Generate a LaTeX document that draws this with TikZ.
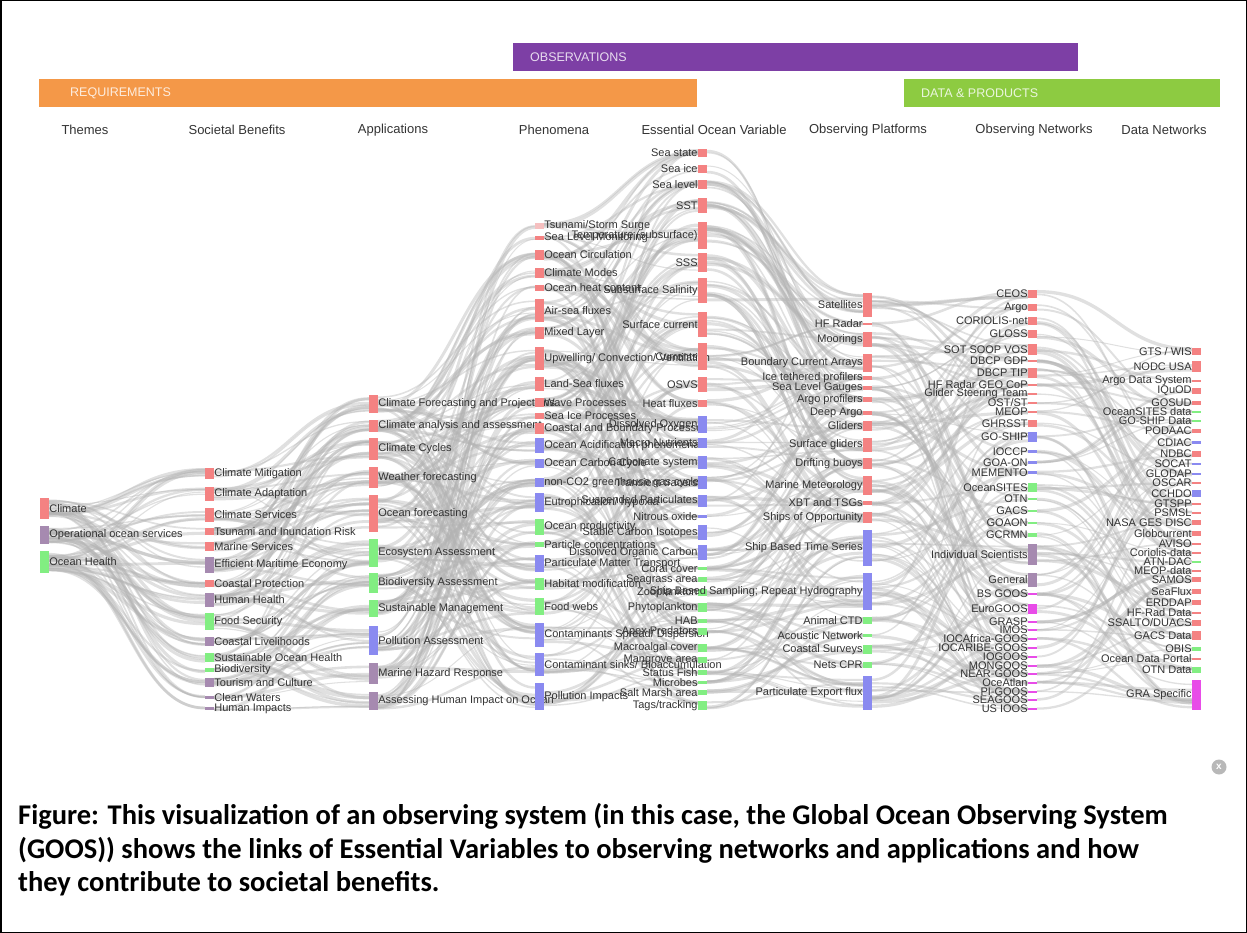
\documentclass[tikz,border=0pt]{standalone}
\usepackage{fontspec}
\setmainfont{Liberation Sans}
\newfontfamily\capfont{Carlito}
\usetikzlibrary{calc}
\pgfdeclarelayer{bg}
\pgfsetlayers{bg,main}
\definecolor{cred}{RGB}{244,130,130}
\definecolor{cpink}{RGB}{246,192,192}
\definecolor{cpur}{RGB}{166,138,176}
\definecolor{cgrn}{RGB}{130,238,130}
\definecolor{cblu}{RGB}{138,138,240}
\definecolor{cmag}{RGB}{232,76,232}
\definecolor{bobs}{RGB}{125,63,165}
\definecolor{breq}{RGB}{244,152,72}
\definecolor{bdat}{RGB}{141,203,65}
\tikzset{
  bar/.style={rectangle,inner sep=0pt,minimum width=9pt,draw=none,label distance=3.5pt},
  lab/.style={font=\fontsize{11}{12}\selectfont,text=black!80,inner sep=0pt},
  lk/.style={draw=black!30,draw opacity=0.4},
  hdr/.style={font=\fontsize{13}{15}\selectfont,text=black!80,inner sep=0pt},
  banner/.style={inner sep=0pt,anchor=north west,minimum height=28pt},
  btext/.style={font=\fontsize{12.5}{14}\selectfont,text=white,text opacity=0.82,anchor=west,inner sep=0pt},
  capt/.style={anchor=base west,inner sep=0pt,font=\capfont\bfseries\fontsize{28.5}{32}\selectfont}
}
\newcommand\mkbar[7]{%
  \expandafter\xdef\csname hh#1\endcsname{\the\numexpr#4-#3\relax}%
  \node[bar,fill=#5,minimum height={max(#4-#3,2.5)},label={[lab]#6:{#7}}] (#1) at ({#2+4.5},{(#3+#4)/2}) {};%
}
\newcommand\linkit[2]{%
  \pgfmathsetmacro\fa{0.1+0.8*rnd}%
  \pgfmathsetmacro\fb{0.1+0.8*rnd}%
  \pgfmathsetmacro\mw{1+2.4*rnd}%
  \draw[lk,line width=\mw pt] ($(#1.north east)!\fa!(#1.south east)$) .. controls +(74,0) and +(-74,0) .. ($(#2.north west)!\fb!(#2.south west)$);%
}
\newcommand\mesh[6]{%
  \foreach \mi in {1,...,#2}{%
    \edef\mh{\csname hh#1\mi\endcsname}%
    \pgfmathtruncatemacro\mk{max(1,round(\mh/#6))}%
    \foreach \mq in {1,...,\mk}{%
      \pgfmathtruncatemacro\mc{round(\mi*#4/#2)}%
      \pgfmathtruncatemacro\mlo{max(1,\mc-#5)}%
      \pgfmathtruncatemacro\mhi{min(#4,\mc+#5)}%
      \pgfmathrandominteger{\mj}{\mlo}{\mhi}%
      \linkit{#1\mi}{#3\mj}%
    }%
  }%
  \foreach \mj in {1,...,#4}{%
    \edef\mh{\csname hh#3\mj\endcsname}%
    \pgfmathtruncatemacro\mk{max(1,round(\mh/#6))}%
    \foreach \mq in {1,...,\mk}{%
      \pgfmathtruncatemacro\mc{round(\mj*#2/#4)}%
      \pgfmathtruncatemacro\mlo{max(1,\mc-#5)}%
      \pgfmathtruncatemacro\mhi{min(#2,\mc+#5)}%
      \pgfmathrandominteger{\mi}{\mlo}{\mhi}%
      \linkit{#1\mi}{#3\mj}%
    }%
  }%
}
\begin{document}
\begin{tikzpicture}[x=1pt,y=-1pt]
\useasboundingbox (0,0) rectangle (1247,933);
\pgfmathsetseed{7}
% banners
\node[banner,fill=bobs,minimum width=565pt] (obs) at (513,43) {};
\node[btext] (obst) at (530,57) {OBSERVATIONS};
\node[banner,fill=breq,minimum width=658pt] (req) at (39,79) {};
\node[btext] (reqt) at (70,93) {REQUIREMENTS};
\node[banner,fill=bdat,minimum width=316pt] (dat) at (904,79) {};
\node[btext] (datt) at (921,93) {DATA \& PRODUCTS};
% headings
\node[hdr] (h1) at (85,130) {Themes};
\node[hdr] (h2) at (237,130) {Societal Benefits};
\node[hdr] (h3) at (393,130) {Applications};
\node[hdr] (h4) at (554,130) {Phenomena};
\node[hdr] (h5) at (714,130) {Essential Ocean Variable};
\node[hdr] (h6) at (868,130) {Observing Platforms};
\node[hdr] (h7) at (1034,130) {Observing Networks};
\node[hdr] (h8) at (1164,130) {Data Networks};
% Themes
\mkbar{th1}{40}{498}{519}{cred}{right}{Climate}
\mkbar{th2}{40}{526}{544}{cpur}{right}{Operational ocean services}
\mkbar{th3}{40}{551}{573}{cgrn}{right}{Ocean Health}
% Societal benefits
\mkbar{s1}{205}{468}{479}{cred}{right}{Climate Mitigation}
\mkbar{s2}{205}{487}{501}{cred}{right}{Climate Adaptation}
\mkbar{s3}{205}{508}{522}{cred}{right}{Climate Services}
\mkbar{s4}{205}{528}{535}{cred}{right}{Tsunami and Inundation Risk}
\mkbar{s5}{205}{542}{551}{cred}{right}{Marine Services}
\mkbar{s6}{205}{557}{573}{cpur}{right}{Efficient Maritime Economy}
\mkbar{s7}{205}{580}{587}{cred}{right}{Coastal Protection}
\mkbar{s8}{205}{593}{607}{cpur}{right}{Human Health}
\mkbar{s9}{205}{613}{630}{cgrn}{right}{Food Security}
\mkbar{s10}{205}{637}{646}{cpur}{right}{Coastal Livelihoods}
\mkbar{s11}{205}{653}{662}{cgrn}{right}{Sustainable Ocean Health}
\mkbar{s12}{205}{668}{672}{cgrn}{right}{Biodiversity}
\mkbar{s13}{205}{678}{687}{cpur}{right}{Tourism and Culture}
\mkbar{s14}{205}{696}{699}{cpur}{right}{Clean Waters}
\mkbar{s15}{205}{707}{710}{cpur}{right}{Human Impacts}
% Applications
\mkbar{a1}{369}{395}{413}{cred}{right}{Climate Forecasting and Projections}
\mkbar{a2}{369}{420}{432}{cred}{right}{Climate analysis and assessment}
\mkbar{a3}{369}{438}{460}{cred}{right}{Climate Cycles}
\mkbar{a4}{369}{467}{488}{cred}{right}{Weather forecasting}
\mkbar{a5}{369}{495}{532}{cred}{right}{Ocean forecasting}
\mkbar{a6}{369}{539}{567}{cgrn}{right}{Ecosystem Assessment}
\mkbar{a7}{369}{573}{593}{cgrn}{right}{Biodiversity Assessment}
\mkbar{a8}{369}{600}{617}{cgrn}{right}{Sustainable Management}
\mkbar{a9}{369}{626}{655}{cblu}{right}{Pollution Assessment}
\mkbar{a10}{369}{663}{684}{cpur}{right}{Marine Hazard Response}
\mkbar{a11}{369}{692}{710}{cpur}{right}{Assessing Human Impact on Ocean}
% Phenomena
\mkbar{p1}{535}{223}{229}{cpink}{right}{Tsunami/Storm Surge}
\mkbar{p2}{535}{236}{240}{cred}{right}{Sea Level Monitoring}
\mkbar{p3}{535}{250}{260}{cred}{right}{Ocean Circulation}
\mkbar{p4}{535}{268}{278}{cred}{right}{Climate Modes}
\mkbar{p5}{535}{285}{291}{cred}{right}{Ocean heat content}
\mkbar{p6}{535}{299}{322}{cred}{right}{Air-sea fluxes}
\mkbar{p7}{535}{327}{339}{cred}{right}{Mixed Layer}
\mkbar{p8}{535}{347}{370}{cred}{right}{Upwelling/ Convection/ Ventilation}
\mkbar{p9}{535}{377}{391}{cred}{right}{Land-Sea fluxes}
\mkbar{p10}{535}{398}{407}{cred}{right}{Wave Processes}
\mkbar{p11}{535}{413}{419}{cred}{right}{Sea Ice Processes}
\mkbar{p12}{535}{423}{434}{cred}{right}{Coastal and Boundary Processes}
\mkbar{p13}{535}{438}{453}{cblu}{right}{Ocean Acidification phenomena}
\mkbar{p14}{535}{459}{468}{cblu}{right}{Ocean Carbon Cycle}
\mkbar{p15}{535}{478}{487}{cblu}{right}{non-CO2 greenhouse gas cycle}
\mkbar{p16}{535}{493}{512}{cblu}{right}{Eutrophication/ hypoxia}
\mkbar{p17}{535}{519}{535}{cgrn}{right}{Ocean productivity}
\mkbar{p18}{535}{542}{547}{cgrn}{right}{Particle concentrations}
\mkbar{p19}{535}{555}{572}{cblu}{right}{Particulate Matter Transport}
\mkbar{p20}{535}{578}{590}{cgrn}{right}{Habitat modification}
\mkbar{p21}{535}{598}{615}{cgrn}{right}{Food webs}
\mkbar{p22}{535}{623}{647}{cblu}{right}{Contaminants Spread/ Dispersion}
\mkbar{p23}{535}{653}{676}{cblu}{right}{Contaminant sinks/ Bioaccumulation}
\mkbar{p24}{535}{683}{710}{cblu}{right}{Pollution Impacts}
% Essential Ocean Variables
\mkbar{e1}{698}{149}{157}{cred}{left}{Sea state}
\mkbar{e2}{698}{165}{173}{cred}{left}{Sea ice}
\mkbar{e3}{698}{180}{189}{cred}{left}{Sea level}
\mkbar{e4}{698}{198}{213}{cred}{left}{SST}
\mkbar{e5}{698}{222}{249}{cred}{left}{Temperature (subsurface)}
\mkbar{e6}{698}{253}{272}{cred}{left}{SSS}
\mkbar{e7}{698}{278}{303}{cred}{left}{Subsurface Salinity}
\mkbar{e8}{698}{312}{337}{cred}{left}{Surface current}
\mkbar{e9}{698}{343}{370}{cred}{left}{Currents}
\mkbar{e10}{698}{377}{392}{cred}{left}{OSVS}
\mkbar{e11}{698}{400}{407}{cred}{left}{Heat fluxes}
\mkbar{e12}{698}{416}{433}{cblu}{left}{Dissolved Oxygen}
\mkbar{e13}{698}{438}{448}{cblu}{left}{Macro Nutrients}
\mkbar{e14}{698}{456}{469}{cblu}{left}{Carbonate system}
\mkbar{e15}{698}{476}{489}{cblu}{left}{Transient tracers}
\mkbar{e16}{698}{495}{507}{cblu}{left}{Suspended Particulates}
\mkbar{e17}{698}{515}{518}{cblu}{left}{Nitrous oxide}
\mkbar{e18}{698}{525}{540}{cblu}{left}{Stable Carbon Isotopes}
\mkbar{e19}{698}{545}{560}{cblu}{left}{Dissolved Organic Carbon}
\mkbar{e20}{698}{567}{570}{cgrn}{left}{Coral cover}
\mkbar{e21}{698}{577}{582}{cgrn}{left}{Seagrass area}
\mkbar{e22}{698}{589}{596}{cgrn}{left}{Zooplankton}
\mkbar{e23}{698}{603}{612}{cgrn}{left}{Phytoplankton}
\mkbar{e24}{698}{619}{623}{cgrn}{left}{HAB}
\mkbar{e25}{698}{628}{635}{cgrn}{left}{Apex Predators}
\mkbar{e26}{698}{644}{652}{cgrn}{left}{Macroalgal cover}
\mkbar{e27}{698}{657}{663}{cgrn}{left}{Mangrove area}
\mkbar{e28}{698}{670}{675}{cgrn}{left}{Status Fish}
\mkbar{e29}{698}{681}{684}{cgrn}{left}{Microbes}
\mkbar{e30}{698}{690}{695}{cgrn}{left}{Salt Marsh area}
\mkbar{e31}{698}{701}{710}{cgrn}{left}{Tags/tracking}
% Observing platforms
\mkbar{l1}{863}{293}{317}{cred}{left}{Satellites}
\mkbar{l2}{863}{323}{325}{cred}{left}{HF Radar}
\mkbar{l3}{863}{332}{347}{cred}{left}{Moorings}
\mkbar{l4}{863}{354}{372}{cred}{left}{Boundary Current Arrays}
\mkbar{l5}{863}{376}{380}{cred}{left}{Ice tethered profilers}
\mkbar{l6}{863}{386}{390}{cred}{left}{Sea Level Gauges}
\mkbar{l7}{863}{397}{402}{cred}{left}{Argo profilers}
\mkbar{l8}{863}{411}{415}{cred}{left}{Deep Argo}
\mkbar{l9}{863}{421}{431}{cred}{left}{Gliders}
\mkbar{l10}{863}{438}{452}{cred}{left}{Surface gliders}
\mkbar{l11}{863}{458}{469}{cred}{left}{Drifting buoys}
\mkbar{l12}{863}{476}{495}{cred}{left}{Marine Meteorology}
\mkbar{l13}{863}{501}{505}{cred}{left}{XBT and TSGs}
\mkbar{l14}{863}{512}{523}{cred}{left}{Ships of Opportunity}
\mkbar{l15}{863}{530}{566}{cblu}{left}{Ship Based Time Series}
\mkbar{l16}{863}{573}{610}{cblu}{left}{Ship Based Sampling; Repeat Hydrography}
\mkbar{l17}{863}{617}{624}{cgrn}{left}{Animal CTD}
\mkbar{l18}{863}{634}{637}{cgrn}{left}{Acoustic Network}
\mkbar{l19}{863}{645}{654}{cgrn}{left}{Coastal Surveys}
\mkbar{l20}{863}{662}{668}{cgrn}{left}{Nets CPR}
\mkbar{l21}{863}{676}{710}{cblu}{left}{Particulate Export flux}
% Observing networks
\mkbar{n1}{1028}{290}{298}{cred}{left}{CEOS}
\mkbar{n2}{1028}{304}{311}{cred}{left}{Argo}
\mkbar{n3}{1028}{317}{325}{cred}{left}{CORIOLIS-net}
\mkbar{n4}{1028}{330}{338}{cred}{left}{GLOSS}
\mkbar{n5}{1028}{344}{355}{cred}{left}{SOT SOOP VOS}
\mkbar{n6}{1028}{360}{362}{cred}{left}{DBCP GDP}
\mkbar{n7}{1028}{368}{378}{cred}{left}{DBCP TIP}
\mkbar{n8}{1028}{384}{386}{cred}{left}{HF Radar GEO CoP}
\mkbar{n9}{1028}{393}{395}{cred}{left}{Glider Steering Team}
\mkbar{n10}{1028}{402}{404}{cred}{left}{OST/ST}
\mkbar{n11}{1028}{411}{413}{cred}{left}{MEOP}
\mkbar{n12}{1028}{420}{427}{cred}{left}{GHRSST}
\mkbar{n13}{1028}{432}{442}{cblu}{left}{GO-SHIP}
\mkbar{n14}{1028}{450}{453}{cblu}{left}{IOCCP}
\mkbar{n15}{1028}{461}{464}{cblu}{left}{GOA-ON}
\mkbar{n16}{1028}{471}{474}{cblu}{left}{MEMENTO}
\mkbar{n17}{1028}{483}{492}{cgrn}{left}{OceanSITES}
\mkbar{n18}{1028}{498}{500}{cgrn}{left}{OTN}
\mkbar{n19}{1028}{510}{512}{cgrn}{left}{GACS}
\mkbar{n20}{1028}{522}{524}{cgrn}{left}{GOAON}
\mkbar{n21}{1028}{533}{537}{cgrn}{left}{GCRMN}
\mkbar{n22}{1028}{544}{565}{cpur}{left}{Individual Scientists}
\mkbar{n23}{1028}{573}{587}{cpur}{left}{General}
\mkbar{n24}{1028}{593}{595}{cmag}{left}{BS GOOS}
\mkbar{n25}{1028}{604}{614}{cmag}{left}{EuroGOOS}
\mkbar{n26}{1028}{621}{623}{cmag}{left}{GRASP}
\mkbar{n27}{1028}{629}{631}{cmag}{left}{IMOS}
\mkbar{n28}{1028}{638}{640}{cmag}{left}{IOCAfrica-GOOS}
\mkbar{n29}{1028}{647}{649}{cmag}{left}{IOCARIBE-GOOS}
\mkbar{n30}{1028}{656}{658}{cmag}{left}{IOGOOS}
\mkbar{n31}{1028}{665}{667}{cmag}{left}{MONGOOS}
\mkbar{n32}{1028}{673}{675}{cmag}{left}{NEAR-GOOS}
\mkbar{n33}{1028}{682}{684}{cmag}{left}{OceAtlan}
\mkbar{n34}{1028}{691}{693}{cmag}{left}{PI-GOOS}
\mkbar{n35}{1028}{699}{701}{cmag}{left}{SEAGOOS}
\mkbar{n36}{1028}{708}{710}{cmag}{left}{US IOOS}
% Data networks
\mkbar{d1}{1192}{348}{355}{cred}{left}{GTS / WIS}
\mkbar{d2}{1192}{361}{372}{cred}{left}{NODC USA}
\mkbar{d3}{1192}{380}{382}{cred}{left}{Argo Data System}
\mkbar{d4}{1192}{388}{394}{cred}{left}{IQuOD}
\mkbar{d5}{1192}{401}{405}{cred}{left}{GOSUD}
\mkbar{d6}{1192}{411}{413}{cgrn}{left}{OceanSITES data}
\mkbar{d7}{1192}{420}{422}{cgrn}{left}{GO-SHIP Data}
\mkbar{d8}{1192}{429}{433}{cred}{left}{PODAAC}
\mkbar{d9}{1192}{441}{444}{cblu}{left}{CDIAC}
\mkbar{d10}{1192}{451}{457}{cred}{left}{NDBC}
\mkbar{d11}{1192}{463}{465}{cblu}{left}{SOCAT}
\mkbar{d12}{1192}{473}{475}{cblu}{left}{GLODAP}
\mkbar{d13}{1192}{482}{484}{cred}{left}{OSCAR}
\mkbar{d14}{1192}{490}{497}{cblu}{left}{CCHDO}
\mkbar{d15}{1192}{503}{505}{cred}{left}{GTSPP}
\mkbar{d16}{1192}{512}{514}{cred}{left}{PSMSL}
\mkbar{d17}{1192}{520}{525}{cred}{left}{NASA GES DISC}
\mkbar{d18}{1192}{531}{536}{cred}{left}{Globcurrent}
\mkbar{d19}{1192}{543}{545}{cred}{left}{AVISO}
\mkbar{d20}{1192}{552}{554}{cred}{left}{Coriolis-data}
\mkbar{d21}{1192}{561}{563}{cgrn}{left}{ATN-DAC}
\mkbar{d22}{1192}{570}{572}{cred}{left}{MEOP-data}
\mkbar{d23}{1192}{577}{582}{cred}{left}{SAMOS}
\mkbar{d24}{1192}{589}{594}{cred}{left}{SeaFlux}
\mkbar{d25}{1192}{600}{605}{cred}{left}{ERDDAP}
\mkbar{d26}{1192}{612}{614}{cred}{left}{HF-Rad Data}
\mkbar{d27}{1192}{620}{626}{cred}{left}{SSALTO/DUACS}
\mkbar{d28}{1192}{631}{640}{cred}{left}{GACS Data}
\mkbar{d29}{1192}{647}{651}{cgrn}{left}{OBIS}
\mkbar{d30}{1192}{658}{660}{cred}{left}{Ocean Data Portal}
\mkbar{d31}{1192}{667}{673}{cgrn}{left}{OTN Data}
\mkbar{d32}{1192}{680}{710}{cmag}{left}{GRA Specific}
% links
\begin{pgfonlayer}{bg}
\mesh{th}{3}{s}{15}{15}{3}
\mesh{s}{15}{a}{11}{5}{3.5}
\mesh{a}{11}{p}{24}{14}{3.5}
\mesh{p}{24}{e}{31}{12}{3.5}
\mesh{e}{31}{l}{21}{8}{3.5}
\mesh{l}{21}{n}{36}{14}{3.5}
\mesh{n}{36}{d}{32}{16}{3.5}
\end{pgfonlayer}
% close icon
\node[circle,fill=black!28,minimum size=15pt,inner sep=0pt,text=white,font=\bfseries\fontsize{10}{10}\selectfont] (close) at (1219,767) {x};
% caption
\node[capt] (c1) at (18,824) {Figure: This visualization of an observing system (in this case, the Global Ocean Observing System};
\node[capt] (c2) at (18,858) {(GOOS)) shows the links of Essential Variables to observing networks and applications and how};
\node[capt] (c3) at (18,891) {they contribute to societal benefits.};
% frame
\draw[line width=1.5pt] (0.75,0.75) rectangle (1246.25,932.25);
\end{tikzpicture}
\end{document}
